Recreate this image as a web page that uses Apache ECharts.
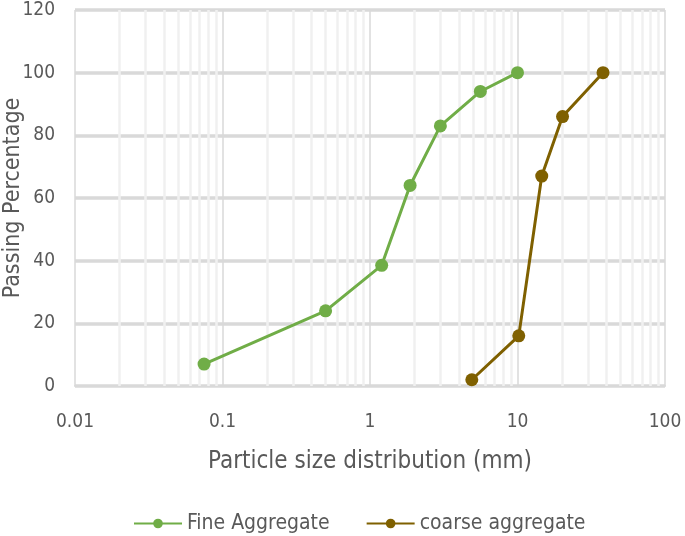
<!DOCTYPE html>
<html>
<head>
<meta charset="utf-8">
<script src="https://cdn.jsdelivr.net/npm/echarts@6/dist/echarts.min.js"></script>
<style>html,body{margin:0;padding:0;background:#fff}#c{width:685px;height:536px}</style>
</head>
<body>
<div id="c"></div>
<script>
const fineSize = [0.075, 0.5, 1.2, 1.87, 3, 5.6, 10];
const finePass = [7, 24, 38.5, 64, 83, 94, 100];
const coarseSize = [4.9, 10.2, 14.6, 20.2, 38];
const coarsePass = [2, 16, 67, 86, 100];
const seriesNames = ['Fine Aggregate', 'coarse aggregate'];
const xTitle = 'Particle size distribution (mm)';
const yTitle = 'Passing Percentage';

const FONT = "'DejaVu Sans Condensed', 'Roboto', sans-serif";
const TXT = '#595959';

const minorLines = [];
for (let d = 0.01; d < 100; d *= 10) {
  for (let k = 2; k <= 9; k++) minorLines.push({ xAxis: +(k * d).toPrecision(3) });
}

const chart = echarts.init(document.getElementById('c'), null, { renderer: 'canvas' });
chart.setOption({
  animation: false,
  backgroundColor: '#fff',
  textStyle: { fontFamily: FONT, color: TXT },
  grid: { left: 75, right: 20, top: 10, bottom: 150, containLabel: false, outerBoundsMode: 'none' },
  legend: {
    top: 508, left: 128,
    itemWidth: 48, itemHeight: 12, itemGap: 36,
    textStyle: { fontFamily: FONT, fontSize: 21, color: TXT },
    data: seriesNames
  },
  xAxis: {
    type: 'log', logBase: 10, min: 0.01, max: 100,
    axisLine: { show: true, lineStyle: { color: '#d9d9d9', width: 2 } },
    axisTick: { show: false },
    axisLabel: { fontFamily: FONT, fontSize: 19, color: TXT, margin: 27,
      formatter: v => String(+v.toPrecision(3)) },
    splitLine: { show: true, lineStyle: { color: '#d9d9d9', width: 1.5 } },
    name: xTitle, nameLocation: 'middle', nameGap: 64, nameMoveOverlap: false,
    nameTextStyle: { fontFamily: FONT, fontSize: 24, color: TXT }
  },
  yAxis: {
    type: 'value', min: 0, max: 120, interval: 20,
    axisLine: { show: false }, axisTick: { show: false },
    axisLabel: { fontFamily: FONT, fontSize: 19, color: TXT, margin: 20 },
    splitLine: { show: true, lineStyle: { color: '#d9d9d9', width: 3.5 } },
    name: yTitle, nameLocation: 'middle', nameGap: 50, nameMoveOverlap: false,
    nameTextStyle: { fontFamily: FONT, fontSize: 23, color: TXT }
  },
  series: [
    {
      type: 'line', data: [], silent: true, z: 1,
      markLine: {
        z: 1, silent: true, symbol: 'none', label: { show: false },
        lineStyle: { color: '#f0f0f0', width: 2.5, type: 'solid' },
        data: minorLines, animation: false
      }
    },
    {
      name: seriesNames[0], type: 'line', z: 3,
      data: fineSize.map((x, i) => [x, finePass[i]]),
      symbol: 'circle', symbolSize: 13,
      itemStyle: { color: '#70AD47' },
      lineStyle: { color: '#70AD47', width: 3 }
    },
    {
      name: seriesNames[1], type: 'line', z: 3,
      data: coarseSize.map((x, i) => [x, coarsePass[i]]),
      symbol: 'circle', symbolSize: 13,
      itemStyle: { color: '#7F6000' },
      lineStyle: { color: '#7F6000', width: 3 }
    }
  ]
});
</script>
</body>
</html>
